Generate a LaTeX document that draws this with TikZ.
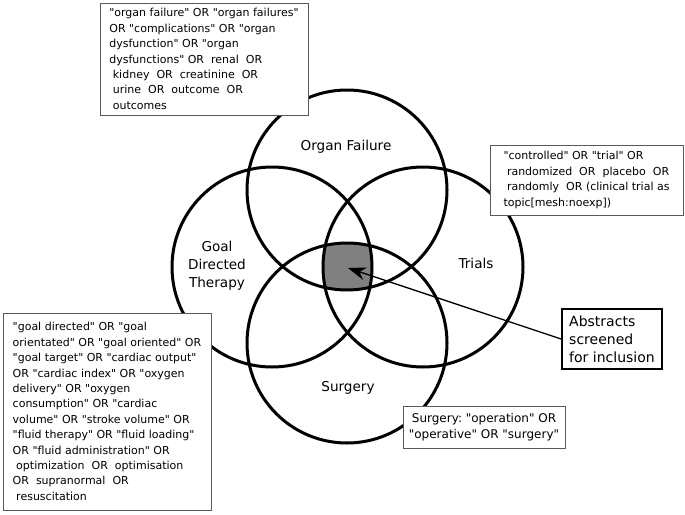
\documentclass[tikz,border=0pt]{standalone}
\usepackage{fontspec}
\setmainfont{DejaVu Sans}[Ligatures=TeXOff]
\usetikzlibrary{arrows.meta}
\newcommand{\lead}{\hspace*{3.5pt}}
\frenchspacing
\begin{document}
\begin{tikzpicture}[x=1pt,y=-1pt,
        setcircle/.style={circle,draw,line width=3pt,minimum size=200pt,inner sep=0pt},
        setlabel/.style={align=center,font=\fontsize{13.6}{18}\selectfont},
        querybox/.style={draw=black!65,fill=white,line width=0.9pt,align=left,inner sep=0pt,
            font=\fontsize{11}{15.4}\selectfont}]

        \useasboundingbox (0,0) rectangle (685,514);

        \begin{scope}
            \clip (347,190) circle[radius=100pt];
            \clip (272,267) circle[radius=100pt];
            \clip (423,267) circle[radius=100pt];
            \fill[black!50] (347,343) circle[radius=100pt];
        \end{scope}

        \node[setcircle] (organ) at (347,190) {};
        \node[setcircle] (goal) at (272,267) {};
        \node[setcircle] (trials) at (423,267) {};
        \node[setcircle] (surgery) at (347,343) {};

        \node[setlabel] (organlabel) at (346,147) {Organ Failure};
        \node[setlabel] (goallabel) at (217,266) {Goal\\ Directed\\ Therapy};
        \node[setlabel] (trialslabel) at (476,263) {Trials};
        \node[setlabel] (surgerylabel) at (348,388) {Surgery};

        \node[querybox,minimum width=208pt,minimum height=112pt] (organquery) at (204,59)
            {"organ failure" OR "organ failures"\\
             OR "complications" OR "organ\\
             dysfunction" OR "organ\\
             dysfunctions" OR\ \ renal\ \ OR\\
             \lead kidney\ \ OR\ \ creatinine\ \ OR\\
             \lead urine\ \ OR\ \ outcome\ \ OR\\
             \lead outcomes};

        \node[querybox,minimum width=193pt,minimum height=70pt] (trialsquery) at (586.5,180)
            {"controlled" OR "trial" OR\\
             \lead randomized\ \ OR\ \ placebo\ \ OR\\
             \lead randomly\ \ OR (clinical trial as\\
             topic[mesh:noexp])};

        \node[querybox,minimum width=208pt,minimum height=197pt] (goalquery) at (107,411.5)
            {"goal directed" OR "goal\\
             orientated" OR "goal oriented" OR\\
             "goal target" OR "cardiac output"\\
             OR "cardiac index" OR "oxygen\\
             delivery" OR "oxygen\\
             consumption" OR "cardiac\\
             volume" OR "stroke volume" OR\\
             "fluid therapy" OR "fluid loading"\\
             OR "fluid administration" OR\\
             \lead optimization\ \ OR\ \ optimisation\\
             OR\ \ supranormal\ \ OR\\
             \lead resuscitation};

        \node[querybox,align=center,minimum width=162pt,minimum height=42pt,
            font=\fontsize{12}{15.7}\selectfont] (surgeryquery) at (484,427)
            {Surgery: "operation" OR\\ "operative" OR "surgery"};

        \node[draw,fill=white,line width=1.8pt,align=left,minimum width=100pt,minimum height=60pt,
            font=\fontsize{14}{18}\selectfont] (abstracts) at (612,339)
            {Abstracts\\ screened\\ for inclusion};

        \coordinate (core) at (348,268);
        \draw[line width=1.3pt,-{Stealth[length=18pt,width=13pt]}] (abstracts.west) -- (core);
    \end{tikzpicture}
\end{document}
